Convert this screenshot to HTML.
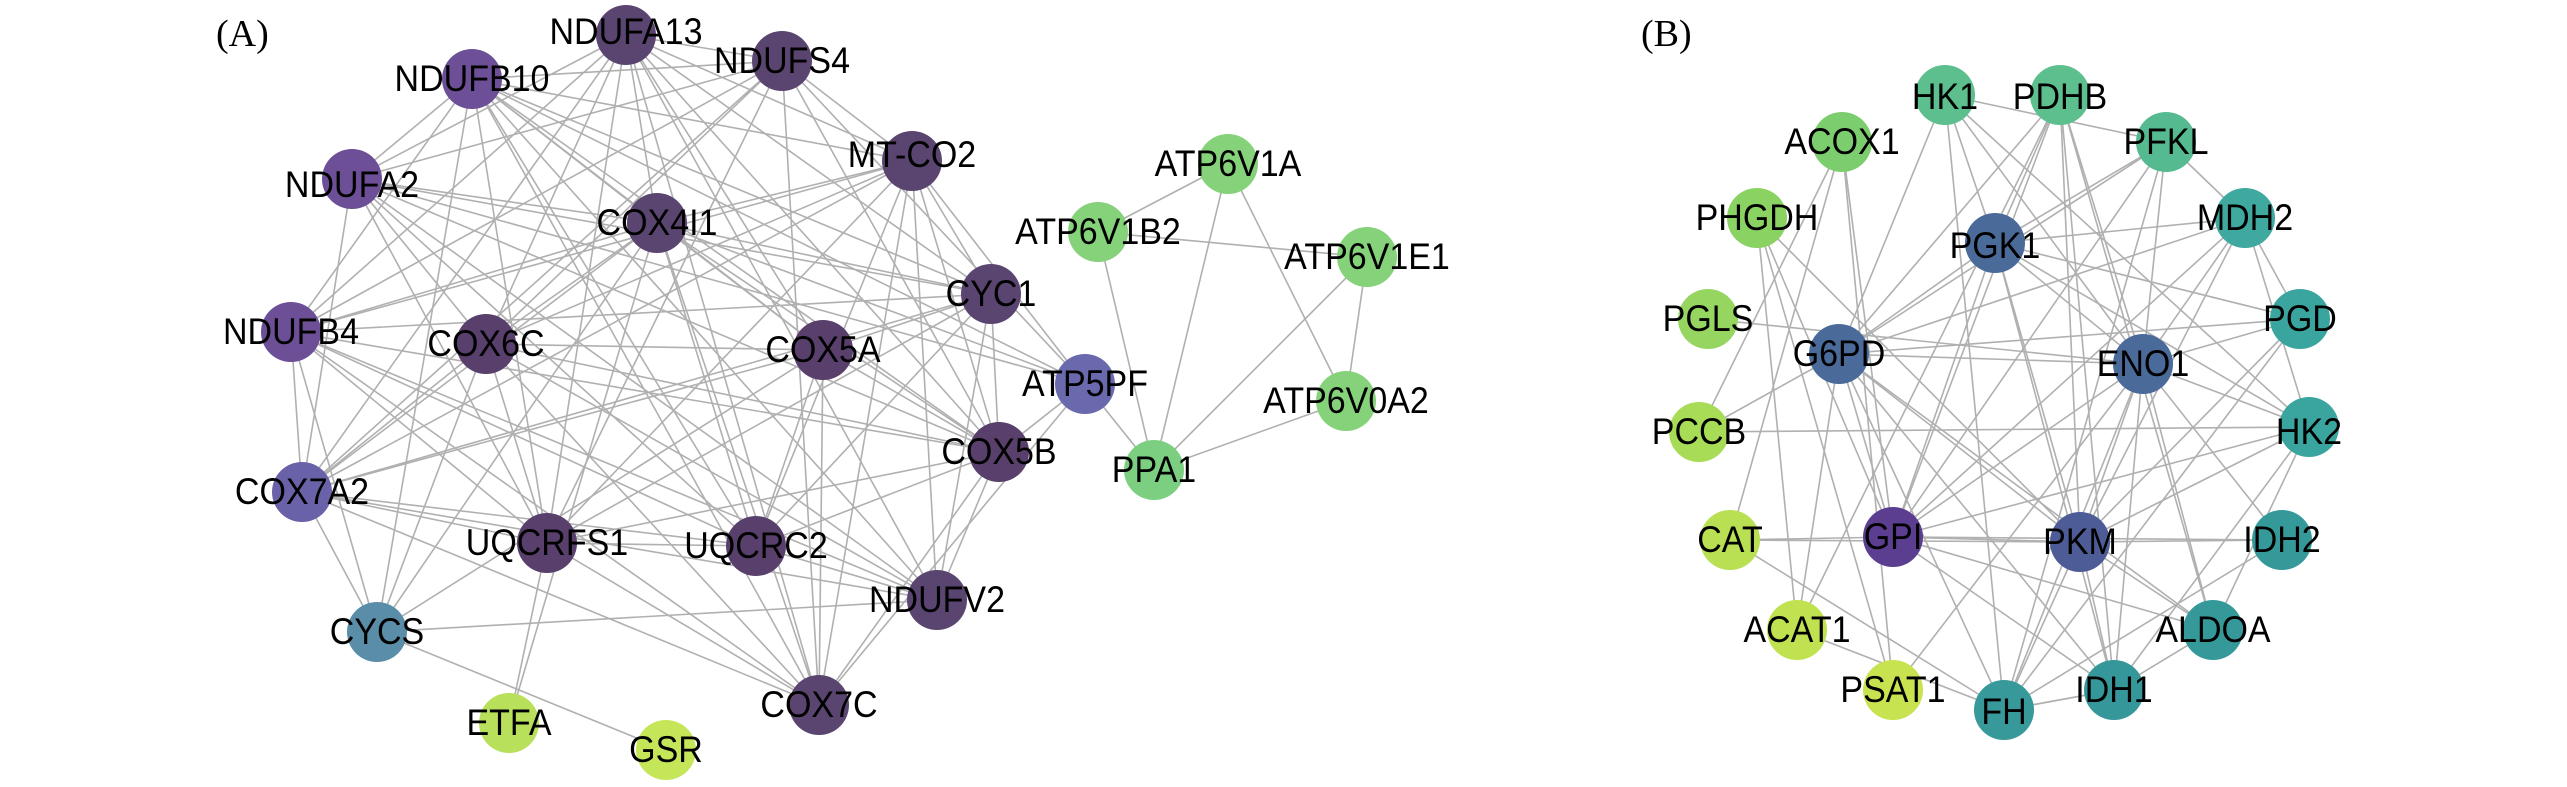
<!DOCTYPE html>
<html><head><meta charset="utf-8"><style>
html,body{margin:0;padding:0;background:#fff;}
svg{display:block}
text{font-family:"Liberation Sans",Arial,sans-serif;font-size:34px;fill:#000;text-anchor:middle;dominant-baseline:central}
.p{font-family:"Liberation Serif",serif;font-size:38px;text-anchor:start}
</style></head><body>
<svg id="s" width="2567" height="787" viewBox="0 0 2567 787" xmlns="http://www.w3.org/2000/svg">
<g id="edges" stroke="#b0b0b0" stroke-width="1.6" fill="none"></g>
<g id="nodes"></g>
<g id="labels">
<text class="p" x="216" y="34">(A)</text>
<text class="p" x="1641" y="34">(B)</text>
</g>
</svg>
<script>
var N={
NDUFA13:[626,35,'#5a4570'],NDUFS4:[782,61,'#5a4570'],NDUFB10:[472,79,'#6c4f96'],MTCO2:[912,161,'#5a4570'],
NDUFA2:[352,179,'#6c4f96'],COX4I1:[657,223,'#5a4570'],CYC1:[991,294,'#5a4570'],NDUFB4:[291,332,'#6c4f96'],
COX6C:[486,344,'#583f6c'],COX5A:[823,350,'#583f6c'],ATP5PF:[1085,384,'#6a69ae'],COX5B:[999,452,'#583f6c'],
COX7A2:[302,492,'#6a62a8'],UQCRFS1:[547,543,'#583f6c'],UQCRC2:[756,546,'#583f6c'],NDUFV2:[937,600,'#5a4570'],
CYCS:[377,632,'#5a8da8'],COX7C:[819,705,'#5a4570'],ETFA:[509,723,'#b9e05a'],GSR:[666,750,'#c6e65a'],
ATP6V1B2:[1098,232,'#86d27a'],ATP6V1A:[1228,164,'#86d27a'],ATP6V1E1:[1367,257,'#86d27a'],ATP6V0A2:[1346,401,'#86d27a'],PPA1:[1154,470,'#7ccf80'],
HK1:[1945,95,'#5dbf8e'],PDHB:[2060,95,'#5dbf8e'],ACOX1:[1842,142,'#7ccd6e'],PFKL:[2166,142,'#55ba8f'],
PHGDH:[1757,218,'#8ad262'],MDH2:[2245,218,'#3fa9a0'],PGK1:[1995,243,'#4a6a9a'],PGLS:[1708,319,'#95d560'],
PGD:[2300,319,'#3aa59f'],G6PD:[1839,354,'#4a6a9a'],ENO1:[2143,364,'#4a6a9a'],PCCB:[1699,432,'#a8dc57'],
HK2:[2309,427,'#3aa59f'],CAT:[1730,540,'#b8e052'],GPI:[1893,537,'#5b3e8f'],PKM:[2080,542,'#4d5c96'],
IDH2:[2282,540,'#35999a'],ACAT1:[1797,630,'#c0e251'],ALDOA:[2213,630,'#35999a'],PSAT1:[1893,690,'#c8e350'],
IDH1:[2114,690,'#36979a'],FH:[2004,710,'#38999b']};
var seed=7;function r(){seed=(seed*16807)%2147483647;return seed/2147483647;}
var E=[];
var A=['NDUFA13','NDUFS4','NDUFB10','MTCO2','NDUFA2','COX4I1','CYC1','NDUFB4','COX6C','COX5A','COX5B','COX7A2','UQCRFS1','UQCRC2','NDUFV2','COX7C','ATP5PF','CYCS'];
for(var i=0;i<A.length;i++)for(var j=i+1;j<A.length;j++){var p=(A[i]=='CYCS'||A[j]=='CYCS'||A[i]=='ATP5PF'||A[j]=='ATP5PF')?0.45:0.8;if(r()<p)E.push([A[i],A[j]]);}
E.push(['ETFA','UQCRFS1'],['ETFA','COX4I1'],['GSR','CYCS'],['ATP6V1B2','ATP6V1E1'],['ATP6V1B2','PPA1'],['ATP6V1A','ATP6V1B2'],['ATP6V1A','PPA1'],['ATP6V1A','ATP6V0A2'],['ATP6V1E1','ATP6V0A2'],['ATP6V1E1','PPA1'],['ATP6V0A2','PPA1'],['ATP5PF','PPA1']);
var B=['HK1','PDHB','ACOX1','PFKL','PHGDH','MDH2','PGK1','PGLS','PGD','G6PD','ENO1','PCCB','HK2','CAT','GPI','PKM','IDH2','ACAT1','ALDOA','PSAT1','IDH1','FH'];
var H={PGK1:1,G6PD:1,ENO1:1,PKM:1,GPI:1};
var per={ACOX1:1,PHGDH:1,PGLS:1,PCCB:1,CAT:1,ACAT1:1,PSAT1:1};
for(var i=0;i<B.length;i++)for(var j=i+1;j<B.length;j++){var a=B[i],b=B[j],p;
 if(H[a]&&H[b])p=0.95;else if(H[a]||H[b])p=(per[a]||per[b])?0.3:0.85;else if(per[a]||per[b])p=0.06;else p=0.3;
 if(r()<p)E.push([a,b]);}
E.push(['CAT','ACOX1'],['ACAT1','PHGDH'],['PSAT1','PHGDH'],['PCCB','ACOX1'],['HK1','PFKL'],['FH','IDH1']);
var g=document.getElementById('edges'),s='';
E.forEach(function(e){var a=N[e[0]],b=N[e[1]];s+='<line x1="'+a[0]+'" y1="'+a[1]+'" x2="'+b[0]+'" y2="'+b[1]+'"/>';});
g.innerHTML=s;s='';
for(var k in N){var n=N[k];s+='<circle cx="'+n[0]+'" cy="'+n[1]+'" r="30" fill="'+n[2]+'"/>';}
document.getElementById('nodes').innerHTML=s;
</script>
<svg width="0" height="0" style="position:absolute;left:0;top:0;overflow:visible" viewBox="0 0 2567 787">
</svg>
<svg width="2567" height="787" style="position:absolute;left:0;top:0" viewBox="0 0 2567 787" xmlns="http://www.w3.org/2000/svg">
<g transform="scale(1,1)">
<g style="font-family:'Liberation Sans',Arial,sans-serif;font-size:34px;text-anchor:middle">
<g transform="translate(0,0)">
<text x="626" y="35" transform="translate(0,-3) scale(1,1.08)" transform-origin="626 35">NDUFA13</text>
<text x="782" y="61" transform="scale(1,1.08)" transform-origin="782 61">NDUFS4</text>
<text x="472" y="79" transform="scale(1,1.08)" transform-origin="472 79">NDUFB10</text>
<text x="912" y="155" transform="scale(1,1.08)" transform-origin="912 155">MT-CO2</text>
<text x="352" y="185" transform="scale(1,1.08)" transform-origin="352 185">NDUFA2</text>
<text x="657" y="223" transform="scale(1,1.08)" transform-origin="657 223">COX4I1</text>
<text x="1098" y="232" transform="scale(1,1.08)" transform-origin="1098 232">ATP6V1B2</text>
<text x="991" y="294" transform="scale(1,1.08)" transform-origin="991 294">CYC1</text>
<text x="291" y="332" transform="scale(1,1.08)" transform-origin="291 332">NDUFB4</text>
<text x="486" y="344" transform="scale(1,1.08)" transform-origin="486 344">COX6C</text>
<text x="823" y="350" transform="scale(1,1.08)" transform-origin="823 350">COX5A</text>
<text x="1085" y="384" transform="scale(1,1.08)" transform-origin="1085 384">ATP5PF</text>
<text x="999" y="452" transform="scale(1,1.08)" transform-origin="999 452">COX5B</text>
<text x="302" y="492" transform="scale(1,1.08)" transform-origin="302 492">COX7A2</text>
<text x="547" y="543" transform="scale(1,1.08)" transform-origin="547 543">UQCRFS1</text>
<text x="756" y="546" transform="scale(1,1.08)" transform-origin="756 546">UQCRC2</text>
<text x="937" y="600" transform="scale(1,1.08)" transform-origin="937 600">NDUFV2</text>
<text x="377" y="632" transform="scale(1,1.08)" transform-origin="377 632">CYCS</text>
<text x="819" y="705" transform="scale(1,1.08)" transform-origin="819 705">COX7C</text>
<text x="509" y="723" transform="scale(1,1.08)" transform-origin="509 723">ETFA</text>
<text x="666" y="750" transform="scale(1,1.08)" transform-origin="666 750">GSR</text>
<text x="1228" y="164" transform="scale(1,1.08)" transform-origin="1228 164">ATP6V1A</text>
<text x="1367" y="257" transform="scale(1,1.08)" transform-origin="1367 257">ATP6V1E1</text>
<text x="1346" y="401" transform="scale(1,1.08)" transform-origin="1346 401">ATP6V0A2</text>
<text x="1154" y="470" transform="scale(1,1.08)" transform-origin="1154 470">PPA1</text>
<text x="1945" y="97" transform="scale(1,1.08)" transform-origin="1945 97">HK1</text>
<text x="2060" y="97" transform="scale(1,1.08)" transform-origin="2060 97">PDHB</text>
<text x="1842" y="142" transform="scale(1,1.08)" transform-origin="1842 142">ACOX1</text>
<text x="2166" y="142" transform="scale(1,1.08)" transform-origin="2166 142">PFKL</text>
<text x="1757" y="218" transform="scale(1,1.08)" transform-origin="1757 218">PHGDH</text>
<text x="2245" y="218" transform="scale(1,1.08)" transform-origin="2245 218">MDH2</text>
<text x="1995" y="246" transform="scale(1,1.08)" transform-origin="1995 246">PGK1</text>
<text x="1708" y="319" transform="scale(1,1.08)" transform-origin="1708 319">PGLS</text>
<text x="2300" y="319" transform="scale(1,1.08)" transform-origin="2300 319">PGD</text>
<text x="1839" y="354" transform="scale(1,1.08)" transform-origin="1839 354">G6PD</text>
<text x="2143" y="364" transform="scale(1,1.08)" transform-origin="2143 364">ENO1</text>
<text x="1699" y="432" transform="scale(1,1.08)" transform-origin="1699 432">PCCB</text>
<text x="2309" y="432" transform="scale(1,1.08)" transform-origin="2309 432">HK2</text>
<text x="1730" y="540" transform="scale(1,1.08)" transform-origin="1730 540">CAT</text>
<text x="1893" y="537" transform="scale(1,1.08)" transform-origin="1893 537">GPI</text>
<text x="2080" y="542" transform="scale(1,1.08)" transform-origin="2080 542">PKM</text>
<text x="2282" y="540" transform="scale(1,1.08)" transform-origin="2282 540">IDH2</text>
<text x="1797" y="630" transform="scale(1,1.08)" transform-origin="1797 630">ACAT1</text>
<text x="2213" y="630" transform="scale(1,1.08)" transform-origin="2213 630">ALDOA</text>
<text x="1893" y="690" transform="scale(1,1.08)" transform-origin="1893 690">PSAT1</text>
<text x="2114" y="690" transform="scale(1,1.08)" transform-origin="2114 690">IDH1</text>
<text x="2004" y="712" transform="scale(1,1.08)" transform-origin="2004 712">FH</text>
</g></g></g>
</svg>
</body></html>
